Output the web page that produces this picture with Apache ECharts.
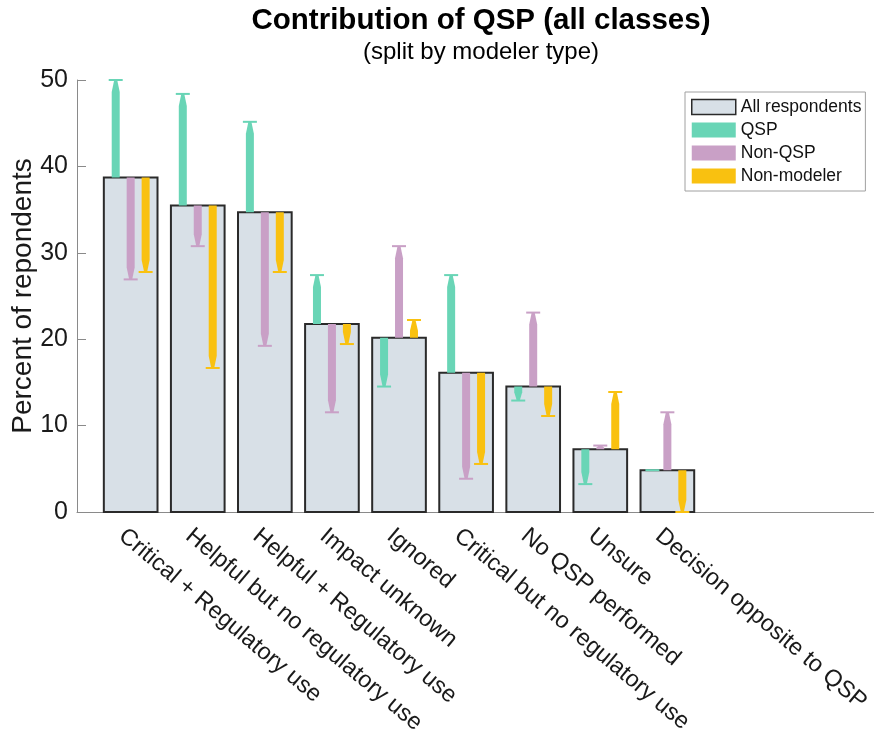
<!DOCTYPE html>
<html>
<head>
<meta charset="utf-8">
<title>Contribution of QSP (all classes)</title>
<script src="https://cdn.jsdelivr.net/npm/echarts@6/dist/echarts.min.js"></script>
<style>
  html, body { margin: 0; padding: 0; background: #fff; }
  #chart { width: 874px; height: 736px; }
</style>
</head>
<body>
<div id="chart"></div>
<script>
// Outcome categories (x axis)
const categories = [
  'Critical + Regulatory use',
  'Helpful but no regulatory use',
  'Helpful + Regulatory use',
  'Impact unknown',
  'Ignored',
  'Critical but no regulatory use',
  'No QSP performed',
  'Unsure',
  'Decision opposite to QSP'
];

// Percent of respondents, all respondents together
const allRespondents = [38.71, 35.48, 34.68, 21.77, 20.16, 16.13, 14.52, 7.26, 4.84];
// Percent within each modeler type
const qsp        = [50.00, 48.39, 45.16, 27.42, 14.52, 27.42, 12.90, 3.23, 4.84];
const nonQsp     = [26.92, 30.77, 19.23, 11.54, 30.77, 3.85, 23.08, 7.69, 11.54];
const nonModeler = [27.78, 16.67, 27.78, 19.44, 22.22, 5.56, 11.11, 13.89, 0.00];

const yTicks = [0, 10, 20, 30, 40, 50];

const FONT = '"Liberation Sans", Arial, Helvetica, sans-serif';
const COLORS = {
  all: '#D8E0E7',
  edge: '#2a2a2a',
  qsp: '#69D5B6',
  nonQsp: '#C9A0C6',
  nonModeler: '#F9C110'
};

// Bars for all respondents: centred on integer positions, 0.8 wide
function renderBar(params, api) {
  const x = api.value(0);
  const v = api.value(1);
  const p0 = api.coord([x - 0.4, 0]);
  const p1 = api.coord([x + 0.4, v]);
  return {
    type: 'rect',
    shape: { x: p0[0], y: p1[1], width: p1[0] - p0[0], height: p0[1] - p1[1] },
    style: { fill: COLORS.all, stroke: COLORS.edge, lineWidth: 2 }
  };
}

// Tapered shaft from the overall bar top to the group value, with a cap
function makeArrowRenderer(slot, color) {
  return function (params, api) {
    const x = api.value(0);
    const base = api.value(1);
    const val = api.value(2);
    const unit = api.size([1, 0])[0];
    const cx = api.coord([x, 0])[0] + slot * unit * 0.223;
    const y0 = api.coord([x, base])[1];
    const y1 = api.coord([x, val])[1];
    const len = Math.abs(y1 - y0);
    const dir = y1 < y0 ? -1 : 1;
    const half = 4, tip = 1.5, capHalf = 7;
    const children = [];
    if (len > 0.5) {
      const taper = Math.min(12, len * 0.6);
      const yt = y1 - dir * taper;
      children.push({
        type: 'polygon',
        shape: { points: [
          [cx - half, y0], [cx + half, y0], [cx + half, yt],
          [cx + tip, y1], [cx - tip, y1], [cx - half, yt]
        ] },
        style: { fill: color }
      });
    }
    children.push({
      type: 'line',
      shape: { x1: cx - capHalf, y1: y1, x2: cx + capHalf, y2: y1 },
      style: { stroke: color, lineWidth: 2 }
    });
    return { type: 'group', children: children };
  };
}

// Rotated category labels under each bar
function renderLabel(params, api) {
  const x = api.value(0);
  const p = api.coord([x, 0]);
  return {
    type: 'text',
    x: p[0] - 9,
    y: p[1] + 21,
    rotation: -40 * Math.PI / 180,
    style: {
      text: categories[params.dataIndex],
      fill: '#1a1a1a',
      font: '23.5px ' + FONT,
      align: 'left',
      verticalAlign: 'middle'
    }
  };
}

const barData = categories.map((c, k) => [k + 1, allRespondents[k]]);
const groupData = arr => categories.map((c, k) => [k + 1, allRespondents[k], arr[k]]);

const chart = echarts.init(document.getElementById('chart'), null, { renderer: 'canvas' });

chart.setOption({
  backgroundColor: '#ffffff',
  animation: false,
  textStyle: { fontFamily: FONT },
  graphic: [
    {
      type: 'text', x: 481, y: 21,
      style: {
        text: 'Contribution of QSP (all classes)',
        font: 'bold 29.5px ' + FONT, fill: '#000',
        align: 'center', verticalAlign: 'middle'
      }
    },
    {
      type: 'text', x: 481, y: 52,
      style: {
        text: '(split by modeler type)',
        font: '24px ' + FONT, fill: '#000',
        align: 'center', verticalAlign: 'middle'
      }
    }
  ],
  grid: {
    left: 77, top: 80, right: 0, bottom: 224,
    containLabel: false, outerBoundsMode: 'none'
  },
  legend: {
    orient: 'vertical',
    left: 685, top: 92,
    padding: [6, 4, 6, 6],
    itemWidth: 44, itemHeight: 15, itemGap: 5,
    borderColor: '#a0a0a0', borderWidth: 1,
    selectedMode: false,
    textStyle: { fontSize: 17.5, color: '#111', fontFamily: FONT },
    data: [
      { name: 'All respondents', icon: 'rect', itemStyle: { color: COLORS.all, borderColor: COLORS.edge, borderWidth: 1.5 } },
      { name: 'QSP', icon: 'rect', itemStyle: { color: COLORS.qsp, borderWidth: 0 } },
      { name: 'Non-QSP', icon: 'rect', itemStyle: { color: COLORS.nonQsp, borderWidth: 0 } },
      { name: 'Non-modeler', icon: 'rect', itemStyle: { color: COLORS.nonModeler, borderWidth: 0 } }
    ]
  },
  xAxis: {
    type: 'value',
    min: 0.2, max: 12.08,
    axisLine: { show: true, lineStyle: { color: '#8a8a8a', width: 1 } },
    axisTick: { show: false },
    axisLabel: { show: false },
    splitLine: { show: false }
  },
  yAxis: {
    type: 'value',
    min: yTicks[0], max: yTicks[yTicks.length - 1], interval: 10,
    name: 'Percent of repondents',
    nameLocation: 'middle',
    nameGap: 40,
    nameMoveOverlap: false,
    nameTextStyle: { fontSize: 28, color: '#1a1a1a', fontFamily: FONT },
    axisLine: { show: true, lineStyle: { color: '#8a8a8a', width: 1 } },
    axisTick: { show: true, inside: true, length: 9, lineStyle: { color: '#8a8a8a' } },
    axisLabel: { fontSize: 25, color: '#1a1a1a', margin: 9, fontFamily: FONT },
    splitLine: { show: false }
  },
  series: [
    {
      name: 'All respondents', type: 'custom', renderItem: renderBar,
      data: barData, itemStyle: { color: COLORS.all }, z: 2
    },
    {
      name: 'QSP', type: 'custom', renderItem: makeArrowRenderer(-1, COLORS.qsp),
      data: groupData(qsp), itemStyle: { color: COLORS.qsp }, z: 3
    },
    {
      name: 'Non-QSP', type: 'custom', renderItem: makeArrowRenderer(0, COLORS.nonQsp),
      data: groupData(nonQsp), itemStyle: { color: COLORS.nonQsp }, z: 3
    },
    {
      name: 'Non-modeler', type: 'custom', renderItem: makeArrowRenderer(1, COLORS.nonModeler),
      data: groupData(nonModeler), itemStyle: { color: COLORS.nonModeler }, z: 3
    },
    {
      name: 'categoryLabels', type: 'custom', renderItem: renderLabel,
      data: barData, clip: false, silent: true, z: 4
    }
  ]
});
</script>
</body>
</html>
